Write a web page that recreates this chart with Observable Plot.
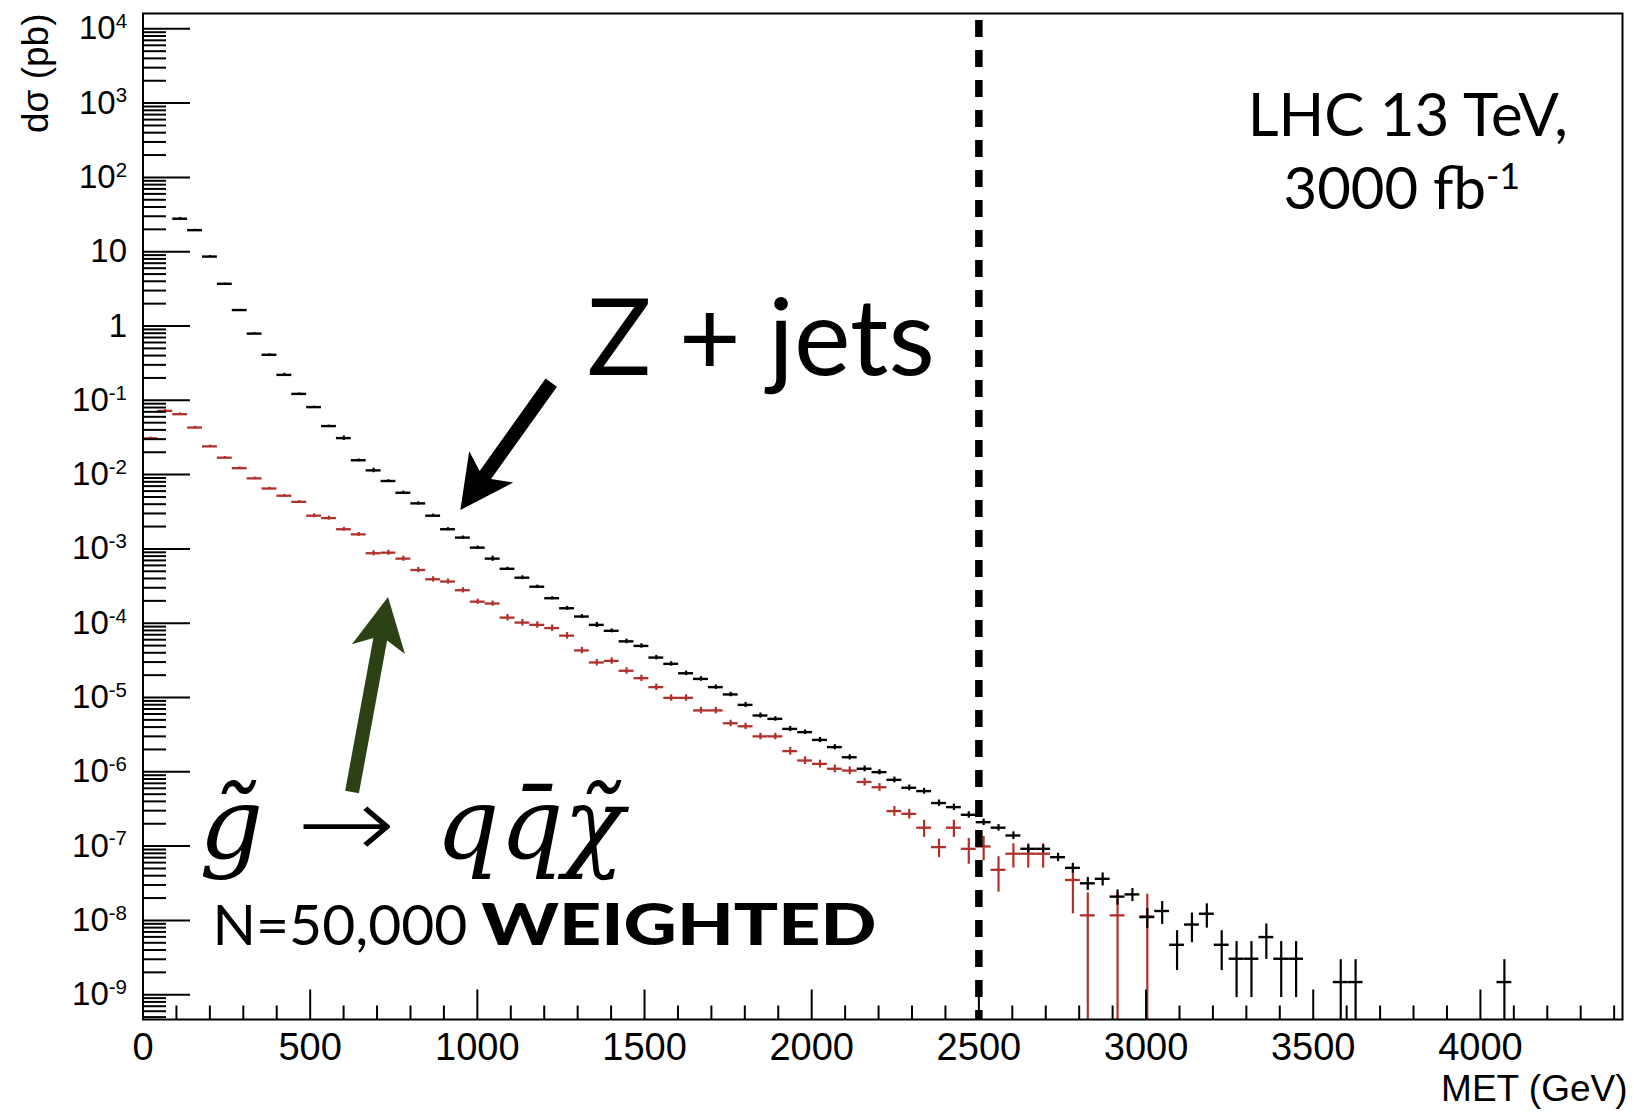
<!DOCTYPE html>
<html>
<head>
<meta charset="utf-8">
<script src="https://cdn.jsdelivr.net/npm/d3@7"></script>
<script src="https://cdn.jsdelivr.net/npm/@observablehq/plot@0.6"></script>
<style>
html, body { margin: 0; padding: 0; background: #fff; }
svg { display: block; }
</style>
</head>
<body>
<div id="chart"></div>
<script>
// ---------------- data ----------------
const binWidth = 44.5;          // GeV per histogram bin
const zJetsFirstBin = 2;        // Z + jets starts at bin 2
const zJets = [
  27.8, 19.5, 8.6, 3.7, 1.64, 0.79, 0.41, 0.22, 0.122, 0.081,
  0.045, 0.031, 0.0156, 0.0114, 0.0082, 0.0057, 0.0041, 0.0028, 0.00184, 0.00142,
  0.00104, 7.4e-4, 5.4e-4, 4.1e-4, 3.1e-4, 2.17e-4, 1.59e-4, 1.23e-4, 9.5e-5, 7.9e-5,
  5.7e-5, 4.95e-5, 3.45e-5, 2.84e-5, 2.12e-5, 1.78e-5, 1.38e-5, 1.10e-5, 7.96e-6, 5.73e-6,
  5.16e-6, 3.78e-6, 3.42e-6, 2.69e-6, 2.15e-6, 1.57e-6, 1.10e-6, 9.9e-7, 7.8e-7, 6.1e-7,
  5.5e-7, 3.8e-7, 3.35e-7, 2.64e-7, 2.10e-7, 1.77e-7, 1.39e-7, 9.2e-8, 9.2e-8, 7.1e-8,
  5.1e-8, 3.16e-8, 3.63e-8, 2.09e-8, 2.24e-8, 1.11e-8, 1.34e-8, 4.7e-9, 8.8e-9, 1.23e-8,
  4.7e-9, 3.05e-9, 3.05e-9, 5.97e-9, 3.05e-9, 3.05e-9, null, null, 1.48e-9, 1.48e-9,
  null, null, null, null, null, null, null, null, null, 1.48e-9
];
const zJetsRelErr = [
  0.04, 0.03, 0.03, 0.02, 0.02, 0.03, 0.03, 0.05, 0.03, 0.03,
  0.03, 0.07, 0.04, 0.07, 0.04, 0.05, 0.05, 0.05, 0.05, 0.05,
  0.05, 0.08, 0.05, 0.06, 0.05, 0.05, 0.06, 0.06, 0.08, 0.06,
  0.07, 0.07, 0.07, 0.07, 0.07, 0.07, 0.07, 0.07, 0.08, 0.08,
  0.07, 0.08, 0.07, 0.08, 0.08, 0.08, 0.09, 0.08, 0.09, 0.09,
  0.09, 0.10, 0.10, 0.10, 0.10, 0.10, 0.12, 0.12, 0.12, 0.13,
  0.15, 0.20, 0.20, 0.23, 0.20, 0.30, 0.34, 0.55, 0.43, 0.36,
  0.55, 0.70, 0.70, 0.50, 0.70, 0.70, null, null, 1.0, 1.0,
  null, null, null, null, null, null, null, null, null, 1.0
];
const signalFirstBin = 0;       // gluino -> q qbar chi starts at bin 0
const signal = [
  0.0308, 0.072, 0.065, 0.043, 0.024, 0.0169, 0.0122, 0.0089, 0.0065, 0.0052,
  0.0043, 0.0028, 0.0026, 0.00184, 0.00157, 8.75e-4, 8.9e-4, 7.4e-4, 5.2e-4, 3.9e-4,
  3.64e-4, 2.78e-4, 1.95e-4, 1.84e-4, 1.19e-4, 1.02e-4, 9.5e-5, 8.6e-5, 6.8e-5, 4.3e-5,
  2.96e-5, 3.11e-5, 2.29e-5, 1.82e-5, 1.38e-5, 9.9e-6, 9.9e-6, 6.7e-6, 6.7e-6, 4.5e-6,
  4.1e-6, 3.0e-6, 3.0e-6, 1.9e-6, 1.42e-6, 1.28e-6, 1.10e-6, 1.04e-6, 7.3e-7, 6.2e-7,
  2.96e-7, 2.72e-7, 1.77e-7, 9.7e-8, 1.77e-7, 9.2e-8, 9.9e-8, 4.8e-8, 7.9e-8, 7.9e-8,
  7.9e-8, null, 3.5e-8, 1.17e-8, null, 1.17e-8, null, 1.13e-8
];
const signalRelErr = [
  0.04, 0.04, 0.04, 0.04, 0.04, 0.04, 0.04, 0.04, 0.04, 0.04,
  0.04, 0.06, 0.06, 0.06, 0.06, 0.08, 0.08, 0.08, 0.08, 0.08,
  0.08, 0.08, 0.08, 0.08, 0.10, 0.10, 0.10, 0.10, 0.10, 0.10,
  0.10, 0.10, 0.10, 0.10, 0.10, 0.10, 0.10, 0.10, 0.10, 0.10,
  0.10, 0.10, 0.10, 0.12, 0.12, 0.12, 0.12, 0.12, 0.12, 0.12,
  0.15, 0.15, 0.26, 0.28, 0.26, 0.38, 0.36, 0.50, 0.36, 0.36,
  0.36, null, 0.65, 1.0, null, 1.0, null, 1.0
];
const xTickValues = [0, 500, 1000, 1500, 2000, 2500, 3000, 3500, 4000];
const yTickValues = [1e4, 1e3, 1e2, 10, 1, 1e-1, 1e-2, 1e-3, 1e-4, 1e-5, 1e-6, 1e-7, 1e-8, 1e-9];
const yTickLabels = ["10^{4}", "10^{3}", "10^{2}", "10", "1", "10^{-1}", "10^{-2}", "10^{-3}",
  "10^{-4}", "10^{-5}", "10^{-6}", "10^{-7}", "10^{-8}", "10^{-9}"];
const metCut = 2500;

// ---------------- layout ----------------
const W = 1634, H = 1113;
const xMax = 4425;
const yMin = 4.64e-10, yMax = 1.607e4;
const RED = "#b0302a";
const GREEN = "#2c4214";
const MATH = "'DejaVu Serif', serif";

function rowsFrom(values, errs, first) {
  const out = [];
  values.forEach((v, k) => {
    if (v == null) return;
    const b = first + k;
    const e = errs[k] * v;
    out.push({lo: b * binWidth, hi: (b + 1) * binWidth, mid: (b + 0.5) * binWidth,
      v, ylo: Math.max(v - e, yMin), yhi: v + e});
  });
  return out;
}
const zRows = rowsFrom(zJets, zJetsRelErr, zJetsFirstBin);
const sRows = rowsFrom(signal, signalRelErr, signalFirstBin);

const yMinor = [];
for (let n = -10; n <= 4; n++) for (let m = 2; m <= 9; m++) {
  const v = m * Math.pow(10, n);
  if (v > yMin && v < yMax) yMinor.push(v);
}
const xMinor = d3.range(100, xMax, 100).filter(d => d % 500 !== 0);

const tickUp = {draw(ctx, l) { ctx.moveTo(0, 0); ctx.lineTo(0, -l); }};
const tickOpts = {anchor: "start", shape: tickUp, stroke: "black", strokeWidth: 2, strokeLinecap: "butt"};

const chart = Plot.plot({
  width: W, height: H,
  marginTop: 13, marginRight: 12, marginBottom: 94, marginLeft: 142.5,
  style: {fontFamily: "'Liberation Sans', Arial, sans-serif", background: "white", color: "black"},
  x: {domain: [0, xMax]},
  y: {type: "log", domain: [yMin, yMax]},
  marks: [
    // signal (red)
    Plot.ruleY(sRows, {x1: "lo", x2: "hi", y: "v", stroke: RED, strokeWidth: 2.3}),
    Plot.ruleX(sRows, {x: "mid", y1: "ylo", y2: "yhi", stroke: RED, strokeWidth: 2.2}),
    // MET cut
    Plot.ruleX([metCut], {stroke: "black", strokeWidth: 7.5, strokeDasharray: "17,13", strokeDashoffset: 23}),
    // Z + jets (black)
    Plot.ruleY(zRows, {x1: "lo", x2: "hi", y: "v", stroke: "black", strokeWidth: 2.4}),
    Plot.ruleX(zRows, {x: "mid", y1: "ylo", y2: "yhi", stroke: "black", strokeWidth: 2.2}),
    // ticks (inside the frame, ROOT style)
    Plot.vector(yTickValues, {y: d => d, frameAnchor: "left", rotate: 90, length: 47, ...tickOpts}),
    Plot.vector(yMinor, {y: d => d, frameAnchor: "left", rotate: 90, length: 23, ...tickOpts}),
    Plot.vector(xTickValues, {x: d => d, frameAnchor: "bottom", rotate: 0, length: 30, ...tickOpts}),
    Plot.vector(xMinor, {x: d => d, frameAnchor: "bottom", rotate: 0, length: 14, ...tickOpts}),
    Plot.axisY({ticks: yTickValues, tickSize: 0, tickPadding: 16, fontSize: 33, label: null,
      tickFormat: d => yTickLabels[yTickValues.indexOf(d)]}),
    Plot.axisX({ticks: xTickValues, tickSize: 0, tickPadding: 14, fontSize: 38, label: null,
      tickFormat: d => String(d)}),
    Plot.frame({stroke: "black", strokeWidth: 2}),
    // axis titles
    Plot.text(["d\u03c3 (pb)"], {frameAnchor: "top-left", dx: -95, rotate: -90, textAnchor: "end",
      lineAnchor: "bottom", fontSize: 37}),
    Plot.text(["MET (GeV)"], {frameAnchor: "bottom-right", dx: 5, dy: 81, textAnchor: "end",
      lineAnchor: "bottom", fontSize: 37}),
    // annotations
    Plot.text(["LHC 13 TeV,"], {x: 3783, y: 366, textAnchor: "middle", lineAnchor: "bottom",
      fontSize: 60, fontFamily: "Lato"}),
    Plot.text(["3000 fb^{-1}"], {x: 3765, y: 38.1, textAnchor: "middle", lineAnchor: "bottom",
      fontSize: 58, fontFamily: "Lato"}),
    Plot.text(["Z + jets"], {x: 1328, y: 0.216, textAnchor: "start", lineAnchor: "bottom",
      fontSize: 107, fontFamily: "Lato"}),
    Plot.text(["g\u0303"], {x: 168, y: 7.0e-8, textAnchor: "start", lineAnchor: "bottom",
      fontSize: 100, fontFamily: MATH, fontStyle: "italic"}),
    Plot.text(["\u2192"], {x: 460, y: 7.0e-8, textAnchor: "start", lineAnchor: "bottom",
      fontSize: 100, fontFamily: "'DejaVu Sans', sans-serif", fontWeight: 200}),
    Plot.text(["qq\u0304\u03c7\u0303"], {x: 875, y: 7.0e-8, textAnchor: "start", lineAnchor: "bottom",
      fontSize: 100, fontFamily: MATH, fontStyle: "italic"}),
    Plot.text(["N=50,000"], {x: 208, y: 4.6e-9, textAnchor: "start", lineAnchor: "bottom",
      fontSize: 57, fontFamily: "Lato"}),
    Plot.text(["WEIGHTED"], {x: 1012, y: 4.6e-9, textAnchor: "start", lineAnchor: "bottom",
      fontSize: 57, fontFamily: "Lato", fontWeight: 900})
  ]
});

const texts = d3.select(chart).selectAll("text");
// superscripts written as ^{...}
texts.each(function () {
  const t = this.textContent;
  const m = t.match(/^(.*)\^\{(.*)\}$/);
  if (!m) return;
  const el = d3.select(this);
  el.text(null);
  el.append("tspan").text(m[1]);
  el.append("tspan").attr("dy", "-0.55em").attr("font-size", "0.62em").text(m[2]);
});
texts.filter(function () { return this.textContent === "WEIGHTED"; })
  .attr("textLength", 395).attr("lengthAdjust", "spacingAndGlyphs");
texts.filter(function () { return this.textContent === "\u2192"; })
  .attr("textLength", 99).attr("lengthAdjust", "spacingAndGlyphs");

// annotation arrows, positioned through the plot's scales
const sx = chart.scale("x"), sy = chart.scale("y");
function drawArrow(tail, tip, color) {
  const x0 = sx.apply(tail[0]), y0 = sy.apply(tail[1]);
  const x1 = sx.apply(tip[0]), y1 = sy.apply(tip[1]);
  const len = Math.hypot(x1 - x0, y1 - y0);
  const ux = (x1 - x0) / len, uy = (y1 - y0) / len;
  const nx = -uy, ny = ux;
  const sw = 7, headL = 53, headW = 27, notch = 10;
  const bx = x1 - ux * (headL - notch), by = y1 - uy * (headL - notch);
  const wx = x1 - ux * headL, wy = y1 - uy * headL;
  const pts = [
    [x0 + nx * sw, y0 + ny * sw], [bx + nx * sw, by + ny * sw],
    [wx + nx * headW, wy + ny * headW], [x1, y1],
    [wx - nx * headW, wy - ny * headW], [bx - nx * sw, by - ny * sw],
    [x0 - nx * sw, y0 - ny * sw]
  ];
  d3.select(chart).append("path")
    .attr("d", "M" + pts.map(p => p.join(",")).join("L") + "Z")
    .attr("fill", color);
}
drawArrow([1222.6, 0.170], [950.7, 0.00329], "black");
drawArrow([626.7, 5.26e-7], [734.4, 2.22e-4], GREEN);

document.getElementById("chart").appendChild(chart);
</script>
</body>
</html>
